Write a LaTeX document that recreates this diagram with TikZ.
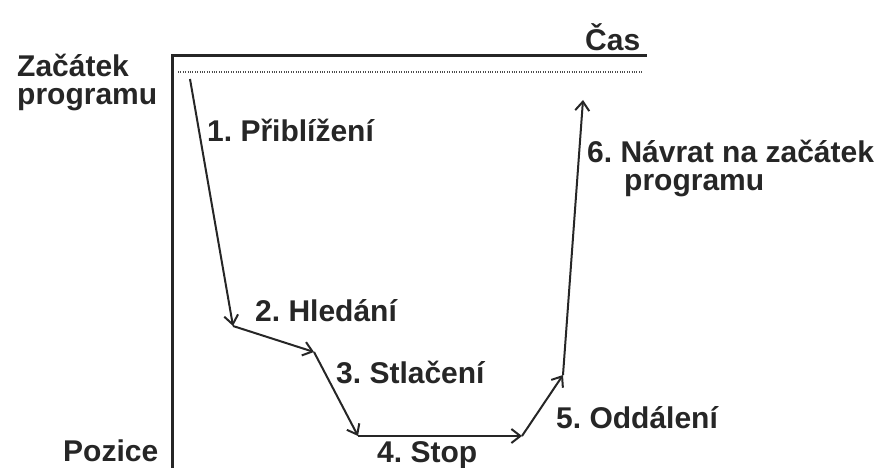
\documentclass[tikz,border=0pt]{standalone}
\usepackage{fontspec}
\setmainfont{Liberation Sans}
\usetikzlibrary{arrows.meta}
\begin{document}
\frenchspacing
\begin{tikzpicture}[x=1pt,y=-1pt,
  lbl/.style={anchor=west,inner sep=0pt,align=left,font=\fontsize{30}{28}\selectfont\bfseries,text=black!85},
  axis/.style={line width=3pt,black!85},
  move/.style={line width=2pt,black!85,-{Straight Barb[length=9pt,width=14pt,line width=2pt]}},
  dots/.style={line width=1.8pt,black!70,dash pattern=on 1pt off 1.4pt}]
\useasboundingbox (0,0) rectangle (884,468);
% axes
\coordinate (o) at (172,468);
\coordinate (c) at (172,56);
\coordinate (e) at (647,56);
\draw[axis] (o) -- (c) -- (e);
\coordinate (d1) at (178,72);
\coordinate (d2) at (642,72);
\draw[dots] (d1) -- (d2);
% path points
\coordinate (p0) at (190,79);
\coordinate (p1) at (233,326);
\coordinate (p2) at (314,352);
\coordinate (p3) at (358,436);
\coordinate (p4) at (522,436);
\coordinate (p5) at (563,375);
\coordinate (p6) at (583,100);
\draw[move] (p0) -- (p1);
\draw[move] (p1) -- (p2);
\draw[move] (p2) -- (p3);
\draw[move] (p3) -- (p4);
\draw[move] (p4) -- (p5);
\draw[move] (p5) -- (p6);
% labels
\node[lbl] (cas) at (585,37) {Čas};
\node[lbl] (zac) at (17,82) {Začátek\\programu};
\node[lbl] (l1) at (207,130) {1. Přiblížení};
\node[lbl] (l2) at (255,311) {2. Hledání};
\node[lbl] (l3) at (336,372) {3. Stlačení};
\node[lbl] (l4) at (377,455) {4. Stop};
\node[lbl] (l5) at (556,418) {5. Oddálení};
\node[lbl] (l6) at (587,168) {6. Návrat na začátek\\\hspace*{37pt}programu};
\node[lbl] (poz) at (63,451) {Pozice};
\end{tikzpicture}
\end{document}
